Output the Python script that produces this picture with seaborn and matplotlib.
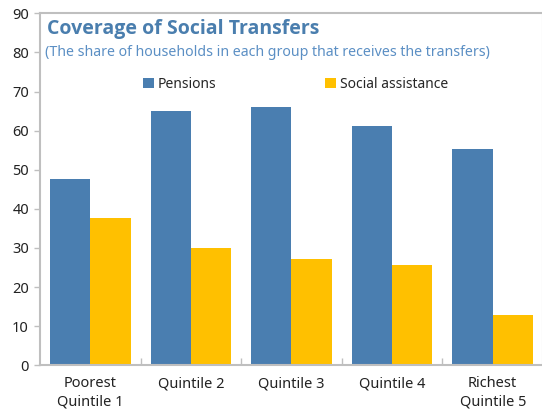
import numpy as np
import pandas as pd
import matplotlib
matplotlib.use("Agg")
import matplotlib.pyplot as plt
import seaborn as sns
from matplotlib.ticker import FixedLocator

# data
groups = ["Poorest\nQuintile 1", "Quintile 2", "Quintile 3", "Quintile 4", "Richest\nQuintile 5"]
pensions = [47.6, 65.1, 66.1, 61.1, 55.4]
social_assistance = [37.6, 29.9, 27.1, 25.6, 12.8]
series_names = ["Pensions", "Social assistance"]
colors = ["#4A7EB0", "#FFC000"]
y_ticks = list(range(0, 100, 10))

df = pd.DataFrame({
    "group": groups * 2,
    "value": pensions + social_assistance,
    "series": [series_names[0]] * len(groups) + [series_names[1]] * len(groups),
})

sns.set_style("white")
plt.rcParams["font.family"] = ["Noto Sans", "DejaVu Sans"]

fig = plt.figure(figsize=(5.42, 4.15), dpi=100)
ax = fig.add_axes([40 / 542, 49.7 / 415, 503 / 542, 352 / 415])

sns.barplot(data=df, x="group", y="value", hue="series", order=groups,
            hue_order=series_names, palette=colors, width=0.8, gap=0,
            saturation=1, edgecolor="none", ax=ax)

ax.set_xlim(-0.5, len(groups) - 0.5)
ax.set_ylim(0, 90)
ax.set_yticks(y_ticks)
ax.set_xlabel("")
ax.set_ylabel("")

spine_col = "#BFBFBF"
for side in ["left", "bottom", "top", "right"]:
    ax.spines[side].set_color(spine_col)
    ax.spines[side].set_linewidth(1.5)

ax.tick_params(axis="y", direction="out", length=4, width=1, color=spine_col,
               labelsize=10.5, pad=4, labelcolor="#222222", left=True)
ax.tick_params(axis="x", which="major", length=0, labelsize=10.5, pad=8,
               labelcolor="#222222")
ax.xaxis.set_minor_locator(FixedLocator(np.arange(0.5, len(groups) - 1, 1)))
ax.tick_params(axis="x", which="minor", direction="in", length=5, width=1,
               color=spine_col, bottom=True)
for lab in ax.get_xticklabels():
    lab.set_linespacing(1.25)

ax.text(0.014, 0.985, "Coverage of Social Transfers", transform=ax.transAxes,
        fontsize=14, fontweight="bold", color="#4A7EAE", va="top", ha="left",
        family=["Open Sans", "DejaVu Sans"])
ax.text(0.01, 0.91, "(The share of households in each group that receives the transfers)",
        transform=ax.transAxes, fontsize=10.2, color="#5B8FC4", va="top", ha="left")

ax.legend(loc="upper center", bbox_to_anchor=(0.508, 0.855), ncol=2, frameon=False,
          fontsize=10, handlelength=0.8, handleheight=0.8, handletextpad=0.3,
          columnspacing=7.8)

fig.savefig("out.png", dpi=100)
